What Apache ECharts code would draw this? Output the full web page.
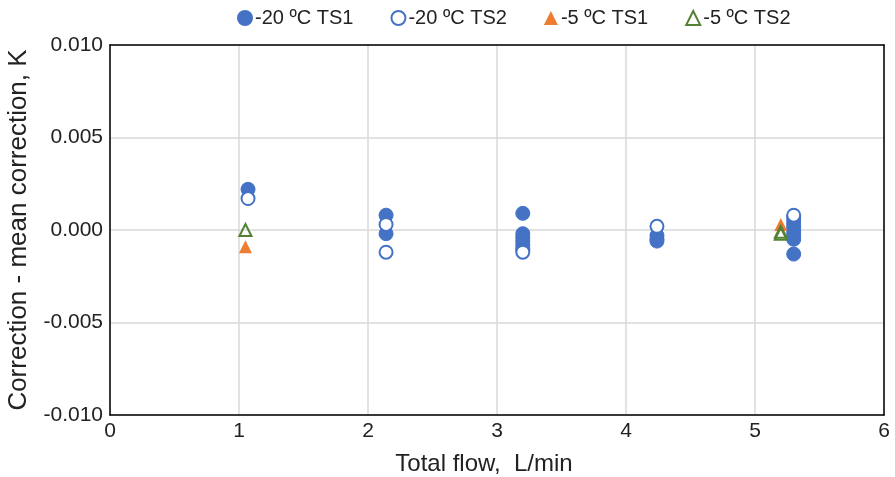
<!DOCTYPE html>
<html>
<head>
<meta charset="utf-8">
<script src="https://cdn.jsdelivr.net/npm/echarts@6/dist/echarts.min.js"></script>
<style>
  html, body { margin: 0; padding: 0; background: #fff; }
  #chart { width: 895px; height: 477px; }
</style>
</head>
<body>
<div id="chart"></div>
<script>
// data: [total flow L/min, correction - mean correction K]
const ts1Minus20 = [
  [1.07, 0.0022],
  [2.14, 0.0008], [2.14, -0.0002],
  [3.20, 0.0009], [3.20, -0.0002], [3.20, -0.0004], [3.20, -0.0006], [3.20, -0.0008], [3.20, -0.0010], [3.20, -0.0011],
  [4.24, -0.0003], [4.24, -0.0005], [4.24, -0.0006],
  [5.30, 0.0007], [5.30, 0.0005], [5.30, 0.0003], [5.30, 0.0001], [5.30, -0.0001], [5.30, -0.0003], [5.30, -0.0005], [5.30, -0.0013]
]
const ts2Minus20 = [
  [1.07, 0.0017],
  [2.14, 0.0003], [2.14, -0.0012],
  [3.20, -0.0012],
  [4.24, 0.0002],
  [5.30, 0.0008]
]
const ts1Minus5 = [
  [1.05, -0.0009],
  [5.20, 0.0003]
]
const ts2Minus5 = [
  [1.05, 0.0000],
  [5.20, -0.0001], [5.20, -0.0002]
]
const seriesNames = ['-20 ºC TS1', '-20 ºC TS2', '-5 ºC TS1', '-5 ºC TS2']

const blue = '#4472C4'
const orange = '#ED7D31'
const green = '#548235'

const chart = echarts.init(document.getElementById('chart'))
const font = 'Liberation Sans, Arial, sans-serif'
const frame = { show: true, onZero: false, lineStyle: { color: '#000', width: 1.5 } }

chart.setOption({
  animation: false,
  textStyle: { fontFamily: font },
  legend: {
    top: 3,
    left: 232,
    itemGap: 37,
    itemWidth: 14,
    itemHeight: 14,
    textStyle: { fontSize: 20, color: '#222', fontFamily: font, padding: [0, 0, 0, -2] },
    data: seriesNames
  },
  grid: { left: 110, right: 11, top: 45, bottom: 62, outerBoundsMode: 'none', containLabel: false },
  xAxis: [{
    type: 'value',
    min: 0, max: 6, interval: 1,
    name: 'Total flow,  L/min',
    nameLocation: 'middle',
    nameGap: 37,
    nameTextStyle: { fontSize: 24, color: '#222', padding: [0, 26, 0, 0] },
    axisLine: frame,
    axisTick: { show: false },
    axisLabel: { fontSize: 21, color: '#222', margin: 6 },
    splitLine: { show: true, lineStyle: { color: '#d9d9d9', width: 1.5 } }
  }, {
    type: 'value', position: 'top',
    min: 0, max: 6, interval: 1,
    axisLine: frame, axisTick: { show: false }, axisLabel: { show: false }, splitLine: { show: false }
  }],
  yAxis: [{
    type: 'value',
    min: -0.01, max: 0.01, interval: 0.005,
    name: 'Correction - mean correction, K',
    nameLocation: 'middle',
    nameGap: 78,
    nameTextStyle: { fontSize: 26, color: '#222' },
    axisLine: frame,
    axisTick: { show: false },
    axisLabel: { fontSize: 21, color: '#222', margin: 7, formatter: v => v.toFixed(3) },
    splitLine: { show: true, lineStyle: { color: '#d9d9d9', width: 1.5 } }
  }, {
    type: 'value', position: 'right',
    min: -0.01, max: 0.01, interval: 0.005,
    axisLine: frame, axisTick: { show: false }, axisLabel: { show: false }, splitLine: { show: false }
  }],
  series: [
    {
      name: seriesNames[0], type: 'scatter', data: ts1Minus20,
      symbol: 'circle', symbolSize: 14, z: 3,
      itemStyle: { color: blue, borderColor: blue, borderWidth: 1, opacity: 1 }
    },
    {
      name: seriesNames[1], type: 'scatter', data: ts2Minus20,
      symbol: 'circle', symbolSize: 13, z: 4,
      itemStyle: { color: '#fff', borderColor: blue, borderWidth: 2, opacity: 1 }
    },
    {
      name: seriesNames[2], type: 'scatter', data: ts1Minus5,
      symbol: 'triangle', symbolSize: 13, z: 5,
      itemStyle: { color: orange, opacity: 1 }
    },
    {
      name: seriesNames[3], type: 'scatter', data: ts2Minus5,
      symbol: 'triangle', symbolSize: 12, z: 6,
      itemStyle: { color: 'rgba(255,255,255,0)', borderColor: green, borderWidth: 2, opacity: 1 }
    }
  ]
})
</script>
</body>
</html>
